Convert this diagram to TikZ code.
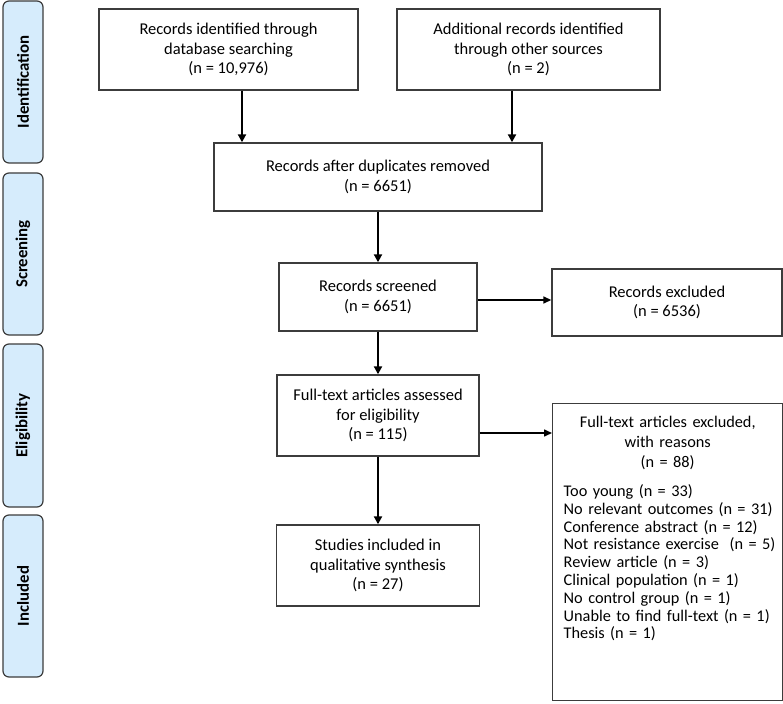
\documentclass[tikz,border=0pt]{standalone}
\usepackage{fontspec}
\setmainfont{Carlito}
\usetikzlibrary{arrows.meta}
\definecolor{sidefill}{RGB}{214,236,252}
\definecolor{boxline}{RGB}{60,60,60}
\begin{document}
\begin{tikzpicture}[x=1pt,y=-1pt,
  box/.style={draw=boxline, line width=1.4pt, align=center, inner sep=0pt,
    font=\fontsize{16.5}{19.8}\selectfont},
  side/.style={draw=boxline, line width=1.2pt, fill=sidefill, rounded corners=6pt,
    rotate=90, minimum height=40pt, inner sep=0pt,
    font=\bfseries\fontsize{16.8}{19}\selectfont},
  varrow/.style={line width=2pt, -{Triangle[length=8pt,width=8pt]}},
  harrow/.style={line width=1.5pt, -{Triangle[length=8pt,width=7pt]}}]
\useasboundingbox (0,0) rectangle (783,703);

% phase labels
\node[side, minimum width=162pt] (L1) at (23,82) {Identification};
\node[side, minimum width=162pt] (L2) at (23,254) {Screening};
\node[side, minimum width=163pt] (L3) at (23,425.5) {Eligibility};
\node[side, minimum width=162pt] (L4) at (23,596) {Included};

% boxes
\node[box, minimum width=259pt, minimum height=81pt] (B1) at (228.5,49.5)
  {Records identified through\\database searching\\(n = 10,976)};
\node[box, minimum width=263pt, minimum height=81pt] (B2) at (528.5,49.5)
  {Additional records identified\\through other sources\\(n = 2)};
\node[box, minimum width=328pt, minimum height=68pt] (B3) at (378,177)
  {Records after duplicates removed\\(n = 6651)};
\node[box, minimum width=198pt, minimum height=68pt] (B4) at (378,297)
  {Records screened\\(n = 6651)};
\node[box, minimum width=230pt, minimum height=67pt] (B5) at (667,302.5)
  {Records excluded\\(n = 6536)};
\node[box, minimum width=202pt, minimum height=81pt] (B6) at (378,415.5)
  {Full-text articles assessed\\for eligibility\\(n = 115)};
\node[box, minimum width=203pt, minimum height=81pt] (B8) at (378,565.5)
  {Studies included in\\qualitative synthesis\\(n = 27)};
\node[box, anchor=north west, minimum width=230pt, minimum height=297pt,
      text width=208pt, align=left, font=\fontsize{16.3}{17.8}\selectfont] (B7) at (552,403)
  {{\centering\baselineskip=20pt Full-text articles excluded,\\with reasons\\(n = 88)\par}
   \vspace{11pt}
   \mbox{Too young (n = 33)}\\
   \mbox{No relevant outcomes (n = 31)}\\
   \mbox{Conference abstract (n = 12)}\\
   \mbox{Not resistance exercise~ (n = 5)}\\
   \mbox{Review article (n = 3)}\\
   \mbox{Clinical population (n = 1)}\\
   \mbox{No control group (n = 1)}\\
   \mbox{Unable to find full-text (n = 1)}\\
   \mbox{Thesis (n = 1)}\par
   \vskip 47pt\hrule height 0pt width 0pt};

% connector guides
\coordinate (a1) at (242,0);
\coordinate (a2) at (512,0);
\coordinate (h1) at (0,300);
\coordinate (h2) at (0,433);

% connectors
\draw[varrow] (B1.south -| a1) -- (B3.north -| a1);
\draw[varrow] (B2.south -| a2) -- (B3.north -| a2);
\draw[varrow] (B3.south) -- (B4.north);
\draw[varrow] (B4.south) -- (B6.north);
\draw[varrow] (B6.south) -- (B8.north);
\draw[harrow] (B4.east |- h1) -- (B5.west |- h1);
\draw[harrow] (B6.east |- h2) -- (B7.west |- h2);
\end{tikzpicture}
\end{document}
